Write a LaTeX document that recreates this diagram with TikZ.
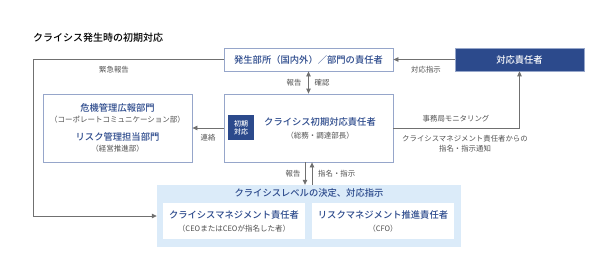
\documentclass[tikz,border=0pt]{standalone}
\usepackage{fontspec}
\setmainfont{Noto Sans CJK JP}[BoldFont={Noto Sans CJK JP Medium}]
\usetikzlibrary{arrows.meta, positioning, calc}
\definecolor{navy}{RGB}{44,74,140}
\definecolor{edgeblue}{RGB}{150,166,202}
\definecolor{paleblue}{RGB}{219,235,249}
\definecolor{linegray}{RGB}{112,112,112}
\definecolor{txtgray}{RGB}{80,80,80}
\newcommand{\hdtxt}{\fontsize{9.3}{11}\selectfont\bfseries\color{navy}}
\newcommand{\smtxt}{\fontsize{7.5}{9.5}\selectfont\color{txtgray}}
\tikzset{
  bxW/.style 2 args={draw=edgeblue, fill=white, line width=0.8pt,
              minimum width=#1, minimum height=#2, inner sep=0pt, align=center},
  bxD/.style 2 args={draw=edgeblue, fill=navy, line width=0.6pt,
              minimum width=#1, minimum height=#2, inner sep=0pt, align=center,
              text=white},
  bxP/.style 2 args={fill=paleblue, minimum width=#1, minimum height=#2,
              inner sep=0pt},
  arr/.style={-{Triangle[length=5pt, width=4.5pt]}, draw=linegray, line width=0.8pt},
  lbl/.style={font=\fontsize{7.4}{9}\selectfont, text=txtgray, inner sep=0pt},
}

\begin{document}
\begin{tikzpicture}[x=1pt, y=-1pt]
      \useasboundingbox (0,0) rectangle (616,279);
      \node[anchor=west, font=\fontsize{10}{12}\selectfont\bfseries, inner sep=0pt]
        (title) at (33,38) {クライシス発生時の初期対応};
      % upper row
      \node[bxW={169pt}{23pt}] (hassei) at (308.5,59.5) {\hdtxt 発生部所（国内外）／部門の責任者};
      \node[bxD={129pt}{23pt}, font=\fontsize{9.3}{11}\selectfont\bfseries]
        (taiou) at (519.5,59.5) {対応責任者};
      % middle row
      \node[bxW={149pt}{68pt}] (kiki) at (117.5,128)
        {\hdtxt 危機管理広報部門\\[-1pt]
         \smtxt （コーポレートコミュニケーション部）\\[6pt]
         \hdtxt リスク管理担当部門\\[-1pt]
         \smtxt （経営推進部）};
      \node[bxW={169pt}{68pt}] (crisis) at (308.5,128) {};
      \node[bxD={26pt}{25pt}, font=\fontsize{7}{9}\selectfont\bfseries, draw=none]
        (badge) at (241,127.5) {初期\\[-1pt]対応};
      \node[align=center, inner sep=0pt] (crisistxt) at (320,128)
        {\hdtxt クライシス初期対応責任者\\[1pt]\smtxt （総務・調達部長）};
      % bottom block
      \node[bxP={304pt}{62pt}] (level) at (309,216) {};
      \node[inner sep=0pt] (leveltxt) at (309,193) {\hdtxt クライシスレベルの決定、対応指示};
      \node[bxW={142pt}{36pt}, draw=none] (cmgr) at (234,221)
        {\hdtxt クライシスマネジメント責任者\\[1pt]\smtxt （CEOまたはCEOが指名した者）};
      \node[bxW={142pt}{36pt}, draw=none] (rmgr) at (383,221)
        {\hdtxt リスクマネジメント推進責任者\\[1pt]\smtxt （CFO）};
      % connectors
      \coordinate (lcorner) at (33,59.5);
      \draw[arr] (taiou.west) -- (hassei.east);
      \node[lbl] (l1) at (426,70) {対応指示};
      \draw[arr] (hassei.west) -- (lcorner) |- (level.west);
      \node[lbl] (l2) at (114,69.5) {緊急報告};
      \draw[arr, {Triangle[length=5pt, width=4.5pt]}-{Triangle[length=5pt, width=4.5pt]}]
        (hassei.south) -- (crisis.north);
      \node[lbl] (l3) at (294,82.5) {報告};
      \node[lbl] (l4) at (322,82.5) {確認};
      \draw[arr] (crisis.west) -- (kiki.east);
      \node[lbl] (l5) at (208,137.5) {連絡};
      \draw[arr] (crisis.east) -| (taiou.south);
      \node[lbl] (l6) at (456,119) {事務局モニタリング};
      \node[lbl, align=center] (l7) at (465,144)
        {クライシスマネジメント責任者からの\\[1pt]指名・指示通知};
      \draw[arr] ([xshift=-3.5pt]crisis.south) -- ([xshift=-3.5pt]crisis.south |- level.north);
      \draw[arr] ([xshift=3.5pt]crisis.south |- level.north) -- ([xshift=3.5pt]crisis.south);
      \node[lbl] (l8) at (293,174) {報告};
      \node[lbl, anchor=west] (l9) at (318,174) {指名・指示};
\end{tikzpicture}
\end{document}
